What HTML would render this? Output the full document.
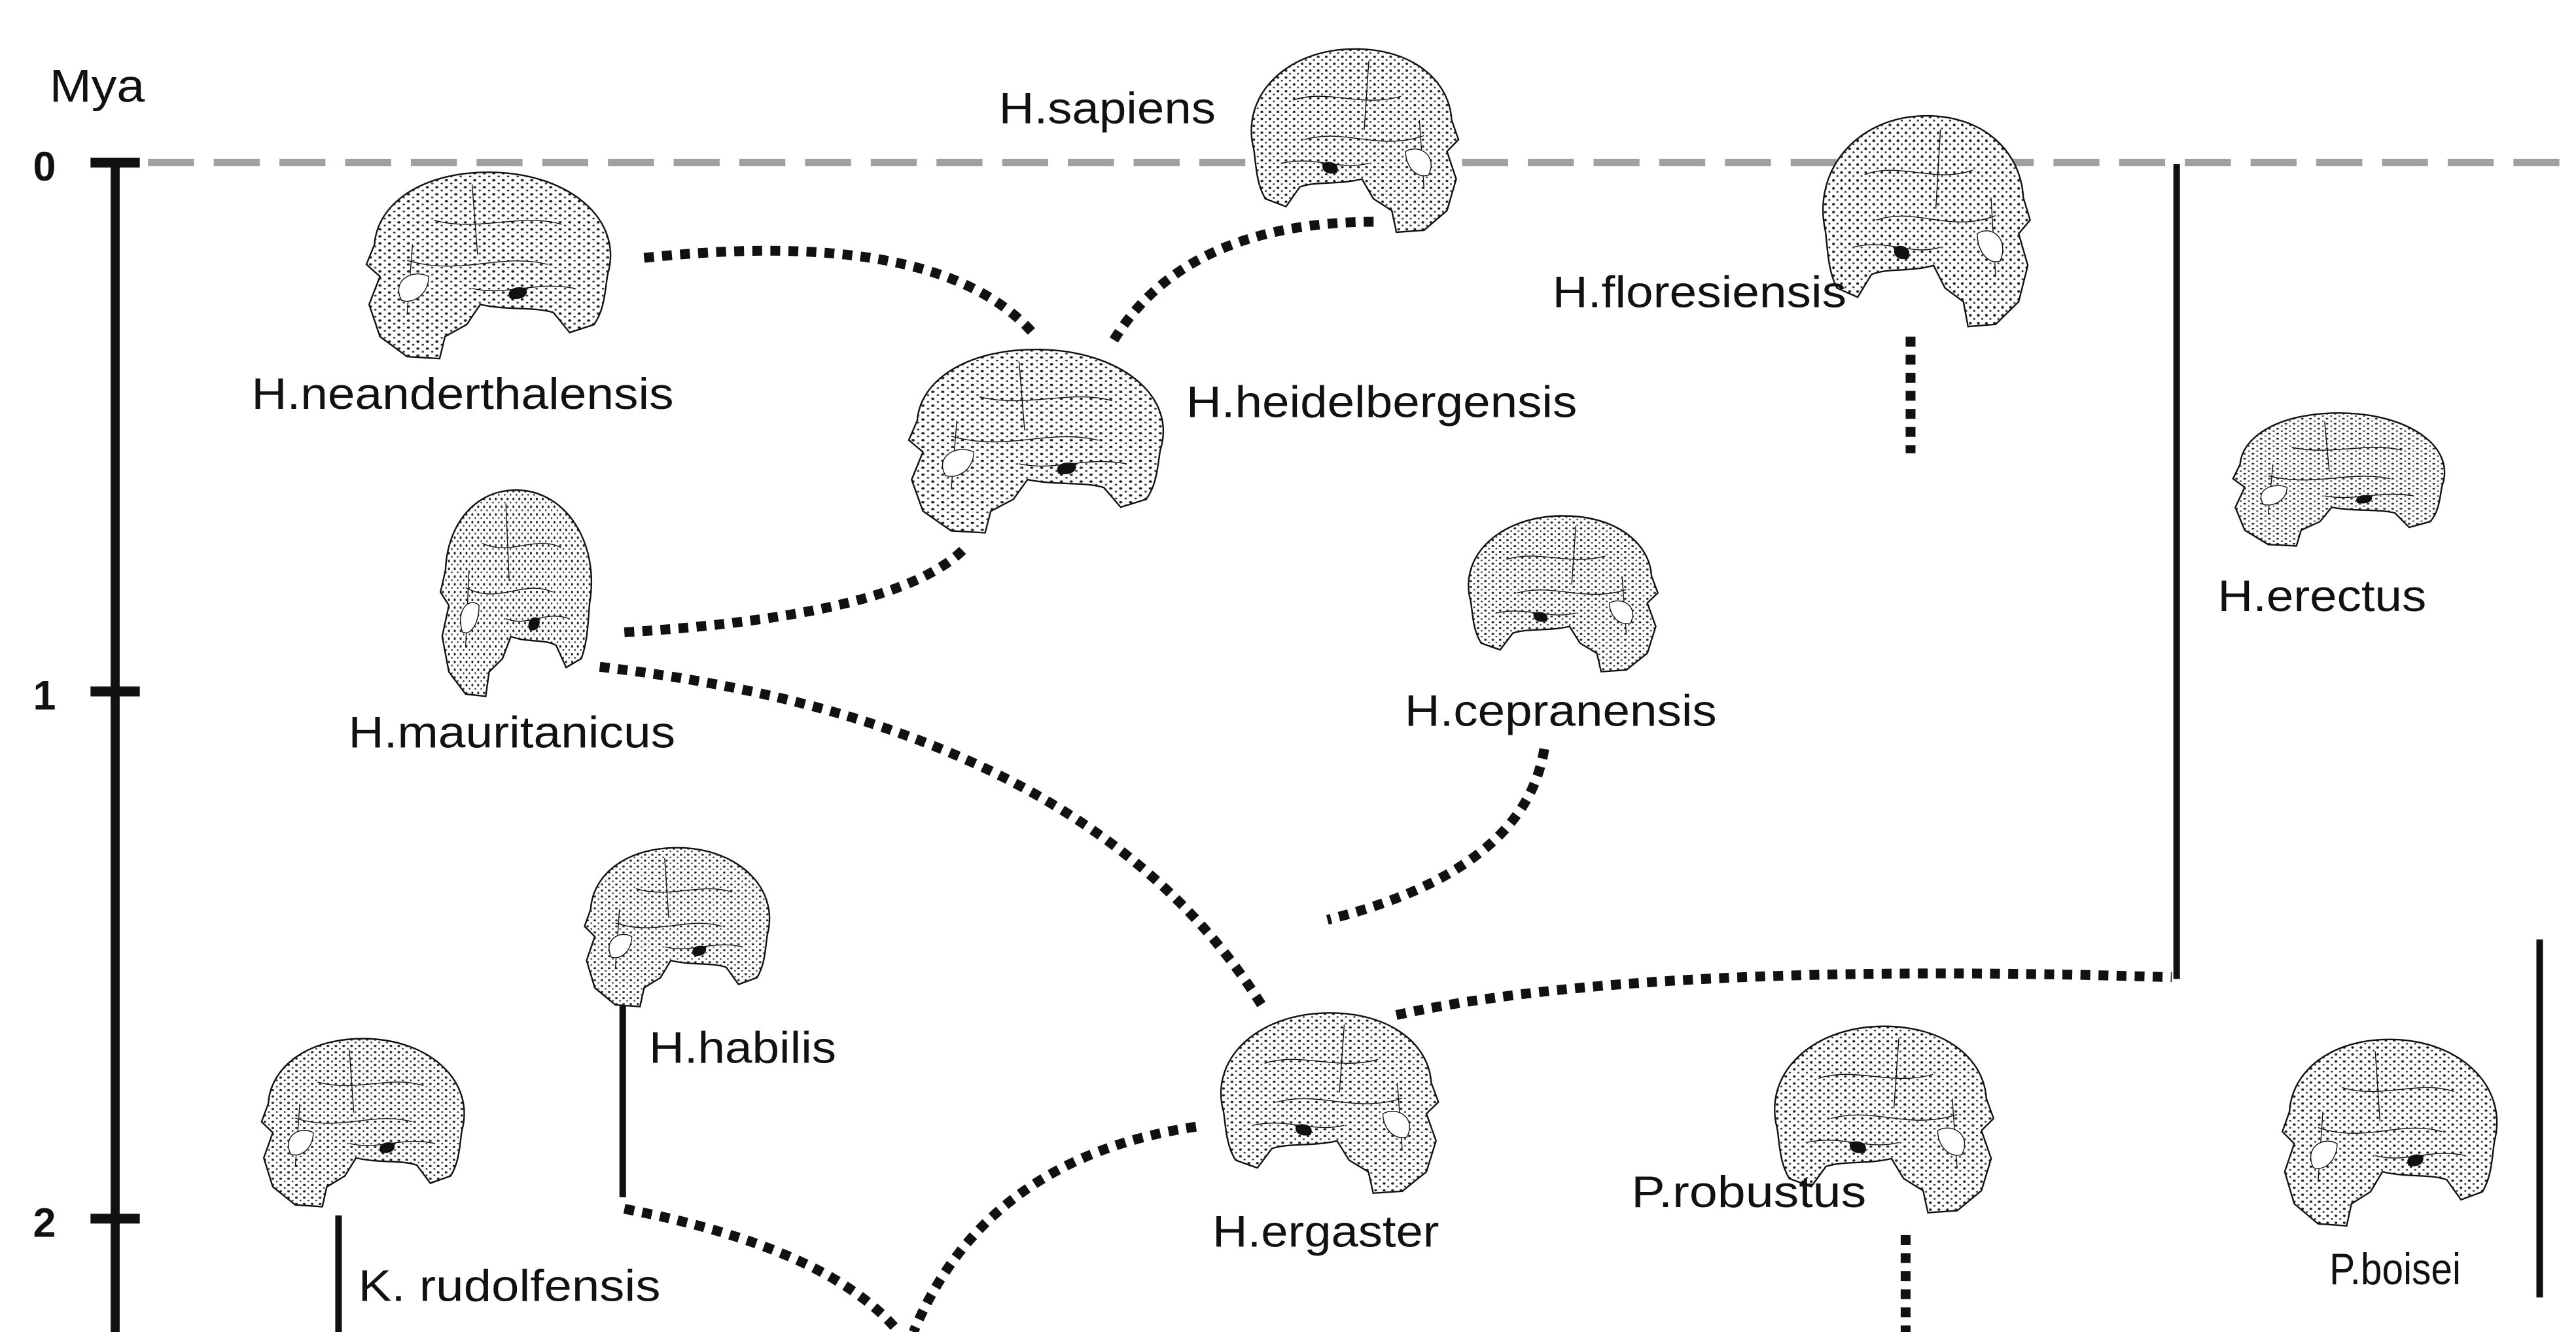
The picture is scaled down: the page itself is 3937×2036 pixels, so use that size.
<!DOCTYPE html>
<html><head><meta charset="utf-8"><style>
html,body{margin:0;padding:0;background:#fff;}
svg{display:block;}
text{font-family:"Liberation Sans",sans-serif;fill:#111;}
</style></head><body>
<svg width="3937" height="2036" viewBox="0 0 1568 811" xmlns="http://www.w3.org/2000/svg">
<defs>
<pattern id="dots" width="3.5" height="3.5" patternUnits="userSpaceOnUse">
<rect width="3.5" height="3.5" fill="#fff"/>
<circle cx="1" cy="1" r="0.6" fill="#222"/>
<circle cx="2.7" cy="2.6" r="0.45" fill="#333"/>
</pattern>
<symbol id="sk" viewBox="0 0 100 100" preserveAspectRatio="none">
<path d="M8,55 C2,28 22,4 52,4 C77,4 93,20 94,40 L97,50 L92,56 L96,70 L92,86 L82,96 L70,97 L68,86 L60,80 L55,70 C45,73 35,71 28,74 L22,84 L13,80 C9,72 9,63 8,55 Z" fill="url(#dots)" stroke="#111" stroke-width="2.4" vector-effect="non-scaling-stroke"/>
<path d="M25,30 C40,24 55,34 72,28 M30,50 C48,44 62,56 82,48 M20,62 C35,58 45,66 58,62 M58,10 L56,45 M80,40 L82,75" fill="none" stroke="#111" stroke-width="1.4" vector-effect="non-scaling-stroke"/>
<path d="M74,56 C80,52 88,58 84,68 C79,70 74,64 74,56Z" fill="#fff" stroke="#111" stroke-width="1.4" vector-effect="non-scaling-stroke"/>
<path d="M38,62 C42,60 46,63 44,67 C40,68 37,66 38,62Z" fill="#111"/>
</symbol>
</defs>

<text x="30" y="62" font-size="28" textLength="58" lengthAdjust="spacingAndGlyphs">Mya</text>
<line x1="90" y1="99" x2="1568" y2="99" stroke="#a0a0a0" stroke-width="4.5" stroke-dasharray="28 12"/>
<line x1="70" y1="97" x2="70" y2="811" stroke="#111" stroke-width="5.5"/>
<line x1="55" y1="99" x2="85" y2="99" stroke="#111" stroke-width="6"/>
<line x1="55" y1="421" x2="85" y2="421" stroke="#111" stroke-width="6"/>
<line x1="55" y1="742" x2="85" y2="742" stroke="#111" stroke-width="6"/>
<text x="20" y="110" font-size="25" font-weight="bold">0</text>
<text x="20" y="432" font-size="25" font-weight="bold">1</text>
<text x="20" y="753" font-size="25" font-weight="bold">2</text>

<g stroke="#111" stroke-width="4">
<line x1="1325" y1="100" x2="1325" y2="596"/>
<line x1="1546" y1="572" x2="1546" y2="790"/>
<line x1="379" y1="596" x2="379" y2="729"/>
<line x1="206" y1="740" x2="206" y2="811"/>
</g>

<g fill="none" stroke="#111" stroke-width="6" stroke-dasharray="6 5">
<path d="M392,157 Q570,138 628,202"/>
<path d="M678,207 Q722,135 838,135"/>
<path d="M380,385 Q545,375 586,335"/>
<path d="M365,406 Q660,440 768,612"/>
<path d="M940,456 Q928,530 808,560"/>
<path d="M850,618 Q1000,585 1322,595"/>
<path d="M728,686 Q600,705 556,811"/>
<path d="M380,736 Q505,760 547,811"/>
<line x1="1163" y1="205" x2="1163" y2="276"/>
<line x1="1160" y1="752" x2="1160" y2="811"/>
</g>

<use href="#sk" x="752" y="25" width="140" height="120"/>
<use href="#sk" x="1100" y="65" width="140" height="138"/>
<use href="#sk" x="733" y="612" width="147" height="118"/>
<use href="#sk" x="1070" y="620" width="148" height="122"/>
<use href="#sk" x="885" y="310" width="128" height="102"/>
<g transform="translate(601,0) scale(-1,1)"><use href="#sk" x="218" y="100" width="165" height="122"/></g>
<g transform="translate(1268,0) scale(-1,1)"><use href="#sk" x="548" y="208" width="172" height="120"/></g>
<g transform="translate(2853,0) scale(-1,1)"><use href="#sk" x="1355" y="248" width="143" height="87"/></g>
<g transform="translate(632,0) scale(-1,1)"><use href="#sk" x="265" y="293" width="102" height="135"/></g>
<g transform="translate(829,0) scale(-1,1)"><use href="#sk" x="352" y="512" width="125" height="104"/></g>
<g transform="translate(447,0) scale(-1,1)"><use href="#sk" x="155" y="628" width="137" height="110"/></g>
<g transform="translate(2915,0) scale(-1,1)"><use href="#sk" x="1385" y="628" width="145" height="122"/></g>

<g font-size="27">
<text x="608" y="75" textLength="132" lengthAdjust="spacingAndGlyphs">H.sapiens</text>
<text x="153" y="249" textLength="257" lengthAdjust="spacingAndGlyphs">H.neanderthalensis</text>
<text x="722" y="254" textLength="238" lengthAdjust="spacingAndGlyphs">H.heidelbergensis</text>
<text x="945" y="187" textLength="179" lengthAdjust="spacingAndGlyphs">H.floresiensis</text>
<text x="1350" y="372" textLength="127" lengthAdjust="spacingAndGlyphs">H.erectus</text>
<text x="212" y="455" textLength="199" lengthAdjust="spacingAndGlyphs">H.mauritanicus</text>
<text x="855" y="442" textLength="190" lengthAdjust="spacingAndGlyphs">H.cepranensis</text>
<text x="395" y="647" textLength="114" lengthAdjust="spacingAndGlyphs">H.habilis</text>
<text x="738" y="759" textLength="138" lengthAdjust="spacingAndGlyphs">H.ergaster</text>
<text x="993" y="735" textLength="143" lengthAdjust="spacingAndGlyphs">P.robustus</text>
<text x="1418" y="782" textLength="80" lengthAdjust="spacingAndGlyphs">P.boisei</text>
<text x="218" y="792" textLength="184" lengthAdjust="spacingAndGlyphs">K. rudolfensis</text>
</g>
</svg>
</body></html>
